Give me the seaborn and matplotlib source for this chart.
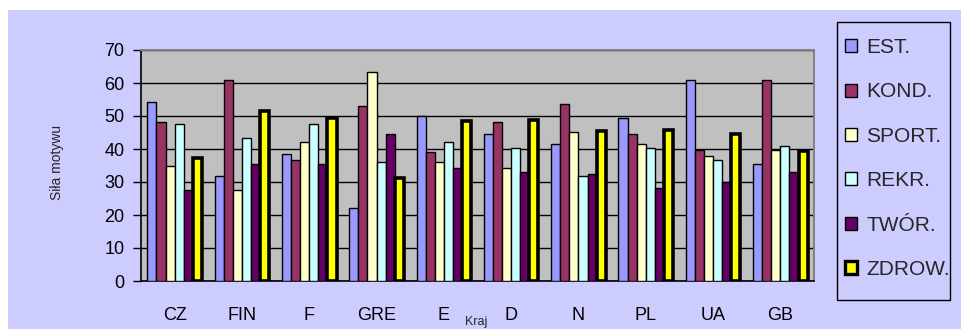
import matplotlib
matplotlib.use("Agg")
import matplotlib.pyplot as plt
from matplotlib.patches import Patch, Rectangle
import seaborn as sns
import pandas as pd
import numpy as np

countries = ["CZ", "FIN", "F", "GRE", "E", "D", "N", "PL", "UA", "GB"]
series_names = ["EST.", "KOND.", "SPORT.", "REKR.", "TWÓR.", "ZDROW."]
est    = [54.2, 31.8, 38.4, 22.1, 49.9, 44.5, 41.5, 49.4, 60.8, 35.4]
kond   = [48.2, 60.8, 36.6, 53.0, 39.1, 48.2, 53.7, 44.5, 39.6, 60.8]
sport  = [34.7, 27.5, 42.1, 63.3, 36.1, 34.2, 45.2, 41.5, 37.8, 39.6]
rekr   = [47.5, 43.3, 47.6, 36.1, 42.1, 40.3, 31.8, 40.3, 36.8, 40.8]
twor   = [27.5, 35.4, 35.4, 44.4, 34.2, 33.0, 32.3, 28.2, 30.0, 32.9]
zdrow  = [37.4, 51.4, 49.5, 31.3, 48.4, 48.9, 45.4, 45.9, 44.6, 39.3]
colors = ["#9999FF", "#993366", "#FFFFCC", "#CCFFFF", "#660066", "#FFFF00"]

values = [est, kond, sport, rekr, twor, zdrow]
rows = []
for name, vals in zip(series_names, values):
    for c, v in zip(countries, vals):
        rows.append({"Kraj": c, "Seria": name, "Wartość": v})
df = pd.DataFrame(rows)

sns.set_style("white")
plt.rcParams["font.family"] = ["Liberation Sans", "DejaVu Sans"]

fig = plt.figure(figsize=(9.61, 3.29), dpi=100, facecolor="white")
W, H = 961, 329
fig.patches.append(Rectangle((8 / W, 0), 1, (H - 10) / H, transform=fig.transFigure,
                             facecolor="#CCCCFF", edgecolor="none", zorder=-10))

ax = fig.add_axes([141 / W, (H - 281) / H, (814 - 141) / W, (281 - 50) / H])
ax.set_facecolor("#C0C0C0")

sns.barplot(data=df, x="Kraj", y="Wartość", hue="Seria", order=countries,
            hue_order=series_names, palette=colors, width=0.81, gap=0,
            saturation=1, ax=ax, legend=False, zorder=3)

for i, cont in enumerate(ax.containers):
    for bar in cont:
        bar.set_edgecolor("black")
        bar.set_linewidth(2.6 if i == 5 else 1.0)
        bar.set_zorder(3)

ax.set_ylim(0, 70)
ax.set_xlim(-0.5, len(countries) - 0.5)
ax.set_yticks(np.arange(0, 71, 10))
ax.yaxis.grid(True, color="black", linewidth=1.0, zorder=1)
ax.set_axisbelow(True)

ax.set_xticks(np.arange(len(countries)))
ax.set_xticklabels(countries)
ax.set_xticks(np.arange(-0.5, len(countries) - 0.4, 1.0), minor=True)
ax.tick_params(axis="x", which="major", length=0, pad=19, labelsize=13, colors="black")
ax.tick_params(axis="x", which="minor", length=6, width=1, direction="out", color="black")
ax.tick_params(axis="y", length=6, width=1, direction="out", pad=6, labelsize=13,
               colors="black", left=True)

for s in ["left", "bottom"]:
    ax.spines[s].set_color("black")
    ax.spines[s].set_linewidth(1.2)
for s in ["top", "right"]:
    ax.spines[s].set_color("#808080")
    ax.spines[s].set_linewidth(1.4)

ax.set_xlabel("")
ax.set_ylabel("")
fig.text(57 / W, 1 - 162 / H, "Siła motywu", rotation=90, ha="center", va="center", fontsize=10)
fig.text(476 / W, 1 - 325 / H, "Kraj", ha="center", va="baseline", fontsize=9)

# legend box
fig.patches.append(Rectangle((837 / W, 1 - 300 / H), (950 - 837) / W, (300 - 22) / H,
                             transform=fig.transFigure, facecolor="#CCCCFF",
                             edgecolor="black", linewidth=1.0, zorder=-5))
handles = [Patch(facecolor=c, edgecolor="black", linewidth=(2.4 if i == 5 else 1.0))
           for i, c in enumerate(colors)]
leg = fig.legend(handles, series_names, loc="upper left",
                 bbox_to_anchor=(845 / W, 1 - 38 / H), bbox_transform=fig.transFigure,
                 frameon=False, fontsize=15, handlelength=0.58, handleheight=0.58,
                 handletextpad=0.45, labelspacing=1.22, borderpad=0, borderaxespad=0)

fig.savefig("out.png", dpi=100, facecolor="white")
